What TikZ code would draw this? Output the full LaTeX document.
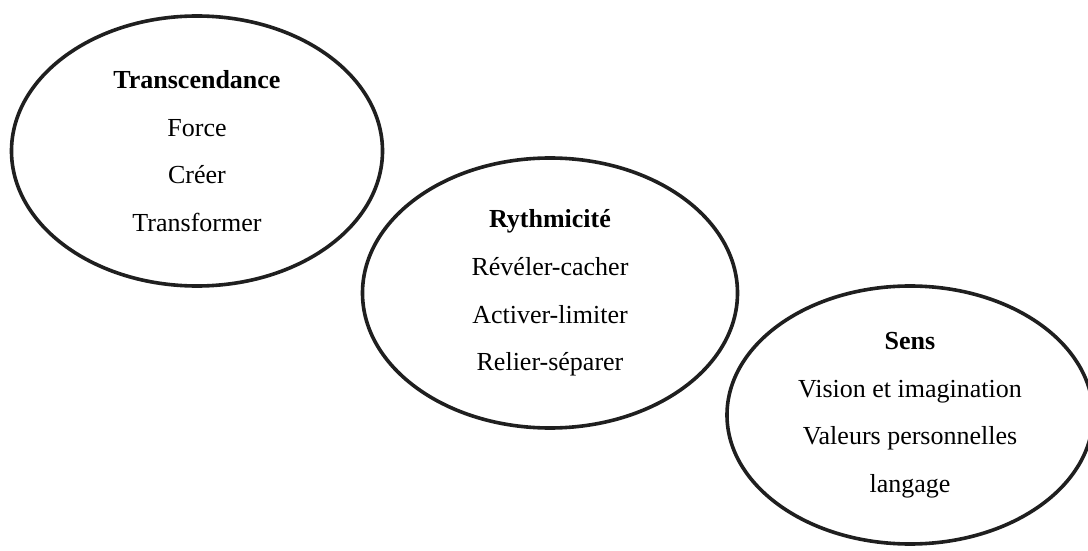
\documentclass[tikz,border=0pt]{standalone}
\usepackage{fontspec}
\setmainfont{Liberation Serif}
\usetikzlibrary{shapes.geometric}
\begin{document}
\begin{tikzpicture}[x=0.5pt,y=-0.5pt,
  bubble/.style={ellipse, draw=black!88, line width=1.8pt, inner sep=0pt, align=center,
    font=\fontsize{13}{23.8}\selectfont}]
\useasboundingbox (0,0) rectangle (1088,551);
\fill[white] (0,0) rectangle (1088,551);
\clip (0,0) rectangle (1088,551);
\node[bubble, minimum width=185.5pt, minimum height=135pt] (e1) at (197,151)
  {\textbf{Transcendance}\\Force\\Créer\\Transformer};
\node[bubble, minimum width=187.5pt, minimum height=135pt] (e2) at (550,293)
  {\textbf{Rythmicité}\\Révéler-cacher\\Activer-limiter\\Relier-séparer};
\node[bubble, minimum width=183pt, minimum height=129pt] (e3) at (910,415)
  {\textbf{Sens}\\Vision et imagination\\Valeurs personnelles\\langage};
\end{tikzpicture}
\end{document}
